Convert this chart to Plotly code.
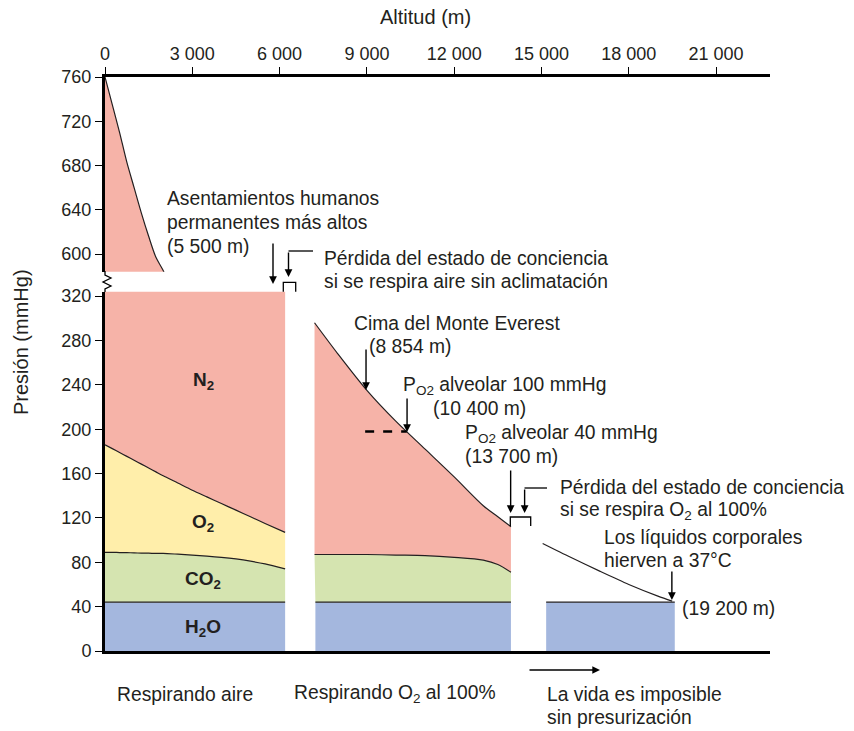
import plotly.graph_objects as go

# ---------------- data ----------------
# Region 1: breathing air (altitude in m, pressures in mmHg)
alt_air_m = [0, 250, 500, 750, 1000, 1250, 1500, 1750, 2000, 2500, 3000, 3500, 4000, 4500, 5000, 5500, 6190]
p_total_air = [760, 735, 710, 683, 660, 637, 616, 597, 585, 552, 516, 483, 452, 423, 396, 371, 340]
p_o2_top_air = [186, 182.5, 179, 175.5, 172, 168.5, 165, 161.5, 158, 151.5, 145, 139, 133, 127, 121, 115, 107]
p_co2_top_air = [89, 89, 88.8, 88.7, 88.5, 88.3, 88.2, 88, 88, 87.3, 86.5, 85.6, 84.5, 83, 81, 78.5, 74]

# Region 2: breathing 100 % O2
alt_o2_m = [7200, 8000, 9000, 10000, 11000, 12000, 13000, 13500, 13950]
p_total_o2 = [296, 268, 235, 207, 182, 157, 131, 121, 112]
p_co2_top_o2 = [87, 87, 87, 86.5, 86, 84.5, 82, 78, 71]

# Region 3: life impossible without pressurisation
alt_high_m = [15040, 16000, 17000, 18000, 19000, 19490]
p_total_high = [97, 84.5, 72, 60, 49.5, 45]
alt_h2o_high_m = [15160, 19580]

# Water vapour band (constant)
p_h2o = [44, 44]
alt_h2o_air_m = [0, 6190]
alt_h2o_o2_m = [7230, 13950]

# Axis ticks
x_tickvals = [0, 3000, 6000, 9000, 12000, 15000, 18000, 21000]
x_ticktext = ["0", "3 000", "6 000", "9 000", "12 000", "15 000", "18 000", "21 000"]
y_low_ticks = [0, 40, 80, 120, 160, 200, 240, 280, 320]
y_high_ticks = [600, 640, 680, 720, 760]

# ---------------- styling ----------------
PINK = "#F6B3A8"
YELLOW = "#FFEEAA"
GREEN = "#D5E4B0"
BLUE = "#A4B7DE"
LINE = "#231F20"
FONT = "Liberation Sans, Arial, sans-serif"
TXT = 19.3

W, H = 854, 731
ML, MR, MT, MB = 105, 84, 77, 80
PW = W - ML - MR
PH = H - MT - MB


def pxx(px):
    return (px - ML) / PW


def pxy(py):
    return (H - MB - py) / PH


fig = go.Figure()


def band(x, y, color, fill, axes=("x", "y"), lw=1.2, shape="spline"):
    fig.add_trace(go.Scatter(
        x=x, y=y, mode="lines", fill=fill, fillcolor=color,
        line=dict(color=LINE, width=lw, shape=shape, smoothing=0.8),
        xaxis=axes[0], yaxis=axes[1], hoverinfo="skip", showlegend=False))


# lower panel, region 1
band(alt_h2o_air_m, p_h2o, BLUE, "tozeroy", shape="linear")
band(alt_air_m, p_co2_top_air, GREEN, "tonexty")
band(alt_air_m, p_o2_top_air, YELLOW, "tonexty")
band(alt_air_m, p_total_air, PINK, "tonexty")
# region 2
band(alt_h2o_o2_m, p_h2o, BLUE, "tozeroy", shape="linear")
band(alt_o2_m, p_co2_top_o2, GREEN, "tonexty")
band(alt_o2_m, p_total_o2, PINK, "tonexty")
# region 3
band(alt_h2o_high_m, p_h2o, BLUE, "tozeroy", shape="linear")
fig.add_trace(go.Scatter(x=alt_high_m, y=p_total_high, mode="lines",
                         line=dict(color=LINE, width=1.2, shape="spline", smoothing=0.8),
                         hoverinfo="skip", showlegend=False))
# upper panel (above the axis break)
band(alt_air_m, p_total_air, PINK, "tozeroy", axes=("x2", "y2"))

x_max = (770 - ML) / 29.1 * 1000
low_top = (H - MB - 291.7) / PH
high_bot = (H - MB - 271.7) / PH

tickfont = dict(family=FONT, size=18, color=LINE)
fig.update_layout(
    width=W, height=H, autosize=False,
    margin=dict(l=ML, r=MR, t=MT, b=MB),
    plot_bgcolor="white", paper_bgcolor="white",
    font=dict(family=FONT, size=TXT, color=LINE),
    showlegend=False,
    xaxis=dict(domain=[0, 1], range=[0, x_max], anchor="y", showline=True,
               linewidth=3, linecolor="black", ticks="", showticklabels=False,
               showgrid=False, zeroline=False),
    xaxis2=dict(domain=[0, 1], range=[0, x_max], anchor="y2", side="top",
                showline=True, linewidth=3, linecolor="black", ticks="outside",
                ticklen=7, tickwidth=1.2, tickcolor="black",
                tickvals=x_tickvals, ticktext=x_ticktext, tickfont=tickfont,
                showgrid=False, zeroline=False),
    yaxis=dict(domain=[0, low_top], range=[0, 324], anchor="x", showline=True,
               linewidth=3, linecolor="black", ticks="outside", ticklen=7,
               tickwidth=1.2, tickcolor="black", tickvals=y_low_ticks,
               tickfont=tickfont, showgrid=False, zeroline=False),
    yaxis2=dict(domain=[high_bot, 1], range=[584, 760], anchor="x2",
                showline=True, linewidth=3, linecolor="black", ticks="outside",
                ticklen=7, tickwidth=1.2, tickcolor="black",
                tickvals=y_high_ticks, tickfont=tickfont, showgrid=False,
                zeroline=False),
)

shapes = []


def path_px(points, width=1.3):
    shapes.append(dict(type="path", xref="paper", yref="paper",
                       path="M " + " L ".join(f"{pxx(a):.5f},{pxy(b):.5f}" for a, b in points),
                       line=dict(color="black", width=width)))


# axis break zigzag
path_px([(105, 271), (105, 275), (111, 278), (103, 282), (111, 286), (105, 289), (105, 292)])
# brackets above the gaps
path_px([(283.3, 291.7), (283.3, 282.3), (295.7, 282.3), (295.7, 291.7)])
path_px([(510.3, 526), (510.3, 517), (530.7, 517), (530.7, 526)])
# elbow connectors
path_px([(313, 251), (288.5, 251)])
path_px([(547, 488), (524.5, 488)])
# dashed line at alveolar PO2 100 mmHg
shapes.append(dict(type="line", xref="x", yref="y", x0=8940, x1=10370, y0=198, y1=198,
                   line=dict(color="black", width=2.5, dash="dash")))
fig.update_layout(shapes=shapes)

ann = []


def text(px, py, t, anchor="left", size=TXT):
    ann.append(dict(xref="paper", yref="paper", x=pxx(px), y=pxy(py), text=t,
                    showarrow=False, xanchor=anchor, yanchor="middle", align="left",
                    font=dict(family=FONT, size=size, color=LINE)))


def lines(px, py, rows, step=23.5):
    for i, r in enumerate(rows):
        text(px, py + i * step, r)


def arrow_paper(px, py_tip, py_tail=None, ax=0):
    ay = 0 if py_tail is None else -(py_tip - py_tail)
    ann.append(dict(xref="paper", yref="paper", x=pxx(px), y=pxy(py_tip), text="",
                    showarrow=True, ax=ax, ay=ay, arrowhead=2, arrowsize=1.1,
                    arrowwidth=1.4, arrowcolor="black", standoff=0))


def arrow_data(xm, yv, ay):
    ann.append(dict(xref="x", yref="y", x=xm, y=yv, text="", showarrow=True,
                    ax=0, ay=ay, arrowhead=2, arrowsize=1.1, arrowwidth=1.4,
                    arrowcolor="black", standoff=0))


# titles
text(425, 17, "Altitud (m)", anchor="center", size=20)
ann.append(dict(xref="paper", yref="paper", x=pxx(21), y=pxy(342), text="Presión (mmHg)",
                showarrow=False, textangle=-90, xanchor="center", yanchor="middle",
                font=dict(family=FONT, size=20, color=LINE)))

# layer labels
text(203, 381, "<b>N<sub>2</sub></b>", anchor="center", size=19)
text(203, 523, "<b>O<sub>2</sub></b>", anchor="center", size=19)
text(203, 580, "<b>CO<sub>2</sub></b>", anchor="center", size=19)
text(203, 628, "<b>H<sub>2</sub>O</b>", anchor="center", size=19)

# callouts
lines(165, 198, ["Asentamientos humanos", "permanentes más altos", "(5 500 m)"], step=24)
lines(322, 258, ["Pérdida del estado de conciencia", "si se respira aire sin aclimatación"])
text(352, 323, "Cima del Monte Everest")
text(367, 346, "(8 854 m)")
text(401, 386, "P<sub>O2</sub> alveolar 100 mmHg")
text(431, 408, "(10 400 m)")
text(463, 434, "P<sub>O2</sub> alveolar 40 mmHg")
text(463, 456, "(13 700 m)")
lines(558, 487, ["Pérdida del estado de conciencia", "si se respira O<sub>2</sub> al 100%"])
lines(602, 537, ["Los líquidos corporales", "hierven a 37°C"])
text(680, 608, "(19 200 m)")

# bottom labels
text(115, 694, "Respirando aire")
text(292, 694, "Respirando O<sub>2</sub> al 100%")
lines(545, 694, ["La vida es imposible", "sin presurización"])

# arrows
arrow_paper(273, 284, 242)
arrow_paper(288.5, 277, 251)
arrow_data(8970, 235.3, -42)
arrow_data(10380, 197.5, -35)
arrow_data(13940, 124.4, -44)
arrow_data(14420, 124.4, -25)
arrow_data(19480, 46, -30)
arrow_paper(600, 670, ax=-72)

fig.update_layout(annotations=ann)
fig.write_html("out.html", config={"displayModeBar": False},
               post_script="document.body.style.margin='0px';document.body.style.overflow='hidden';")
